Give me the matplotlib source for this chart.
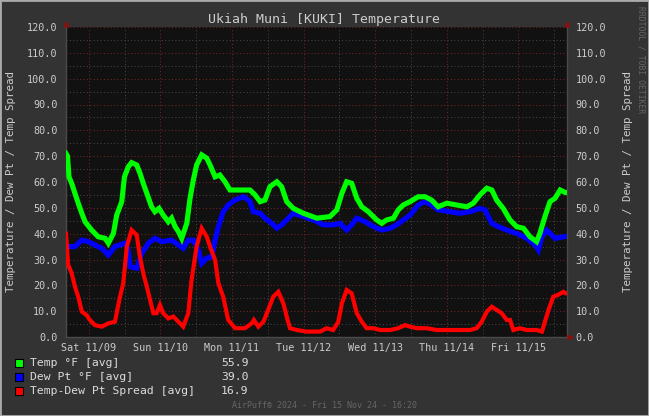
import matplotlib
matplotlib.use("Agg")
import matplotlib.pyplot as plt
import matplotlib.transforms as mtransforms
from matplotlib.patches import Rectangle

# hours since Fri 11/08 16:20, values in degF
temp_hours = [0.0, 0.5, 1.0, 1.9, 3.0, 4.1, 5.3, 6.4, 8.6, 10.8, 13.1, 14.2, 15.9, 17.0,
              18.7, 19.6, 20.9, 22.0, 23.7, 24.8, 25.9, 27.1, 28.7, 29.8, 31.2, 32.6,
              34.3, 35.4, 36.6, 37.7, 38.8, 40.5, 41.6, 42.7, 43.8, 45.5, 47.2, 48.3,
              50.0, 51.6, 53.3, 55.0, 58.9, 61.7, 63.4, 65.1, 66.7, 68.4, 70.7, 72.3,
              74.0, 76.2, 79.6, 84.1, 88.5, 90.8, 92.5, 94.1, 95.8, 97.5, 99.2, 101.4,
              104.2, 105.9, 107.5, 109.8, 111.4, 113.1, 115.4, 118.1, 120.4, 122.6,
              124.8, 127.7, 131.0, 134.4, 136.6, 138.8, 141.1, 142.8, 144.4, 146.6,
              148.9, 151.1, 153.4, 155.6, 157.8, 158.9, 160.6, 162.3, 164.0, 165.7,
              167.5, 168.0]
temp_vals = [71.0, 70.0, 62.0, 59.5, 55.6, 51.8, 47.9, 44.6, 41.4, 38.8, 38.2, 36.3, 40.1,
             47.2, 52.4, 62.0, 65.9, 67.5, 66.6, 63.4, 59.5, 55.6, 50.4, 48.5, 49.8, 47.2,
             44.6, 46.0, 42.7, 40.8, 38.2, 44.0, 53.7, 60.8, 66.6, 70.5, 69.2, 66.6, 62.0,
             62.7, 60.1, 56.9, 56.9, 56.9, 55.0, 52.4, 53.0, 58.2, 60.1, 58.2, 52.4, 49.8,
             47.9, 46.0, 46.6, 49.2, 55.6, 60.1, 59.5, 53.7, 50.4, 48.5, 45.3, 44.0, 45.3,
             46.0, 49.2, 51.1, 52.4, 54.3, 54.3, 53.0, 50.4, 51.8, 51.1, 50.4, 51.8, 55.0,
             57.6, 56.9, 53.0, 49.8, 45.3, 42.7, 42.1, 38.8, 36.9, 40.1, 46.6, 52.4, 53.7,
             56.9, 55.9, 55.9]

dew_hours = [0.0, 3.0, 5.3, 7.5, 9.7, 12.0, 14.2, 16.4, 19.8, 20.8, 21.5, 23.7, 25.4,
             27.6, 29.8, 32.1, 35.4, 37.7, 39.3, 41.0, 42.7, 44.4, 45.5, 47.2, 48.9,
             50.0, 51.1, 52.7, 54.4, 56.7, 59.5, 61.7, 62.8, 65.1, 66.7, 69.0, 70.7,
             72.3, 74.0, 76.2, 79.6, 82.9, 86.3, 89.6, 91.9, 94.1, 95.8, 97.5, 100.3,
             103.1, 105.9, 108.7, 110.9, 113.1, 115.4, 118.1, 120.4, 122.6, 124.8,
             128.8, 132.1, 135.5, 138.8, 140.5, 141.6, 142.8, 145.0, 147.8, 151.1,
             154.5, 157.3, 158.4, 159.6, 161.2, 164.0, 166.8, 168.0]
dew_vals = [35.0, 35.0, 37.5, 36.9, 35.6, 34.3, 31.7, 35.0, 36.3, 34.0, 27.2, 26.6, 32.4,
            36.3, 38.2, 36.9, 37.5, 35.6, 34.3, 37.5, 37.5, 33.7, 28.5, 30.5, 31.1, 37.5,
            42.7, 48.5, 51.1, 53.0, 54.3, 52.4, 48.5, 47.9, 46.0, 44.0, 42.1, 43.4, 45.3,
            47.9, 46.6, 45.3, 43.4, 43.4, 44.0, 41.4, 43.4, 46.0, 44.6, 42.7, 41.4, 42.1,
            43.4, 45.3, 47.2, 51.1, 52.4, 51.1, 49.2, 48.5, 47.9, 48.5, 49.8, 49.2, 46.6,
            44.0, 42.7, 41.4, 40.1, 38.2, 35.6, 33.7, 38.8, 41.4, 38.2, 38.8, 39.0]

spread_hours = [0.0, 0.7, 1.9, 3.0, 4.1, 5.3, 6.9, 8.0, 9.7, 12.0, 14.2, 16.4, 18.1, 19.2,
                20.4, 22.0, 23.7, 24.8, 25.9, 27.1, 28.2, 29.3, 30.4, 31.5, 32.6, 34.3,
                36.0, 37.7, 39.3, 41.0, 42.1, 43.8, 45.5, 47.2, 48.3, 50.0, 51.1, 52.7,
                54.4, 56.7, 60.0, 62.3, 63.0, 64.5, 66.2, 67.8, 69.5, 71.2, 72.9, 74.0,
                75.1, 77.4, 80.7, 85.2, 87.4, 89.6, 91.3, 92.5, 94.1, 95.8, 97.5, 99.2,
                100.8, 103.1, 105.3, 108.7, 111.4, 113.7, 115.4, 117.6, 121.0, 124.3,
                127.7, 132.1, 135.5, 137.7, 139.4, 141.1, 142.8, 144.4, 146.1, 147.8,
                148.9, 150.0, 152.2, 154.5, 157.8, 159.6, 160.6, 161.8, 163.4, 165.0,
                166.8, 167.5, 168.0]
spread_vals = [40.0, 28.0, 24.7, 19.5, 15.6, 9.8, 8.5, 6.6, 4.6, 4.0, 5.3, 5.9, 15.6, 20.8,
               35.0, 41.4, 39.5, 31.1, 24.7, 19.5, 14.3, 9.2, 9.2, 12.4, 9.2, 7.2, 7.9, 5.9,
               4.0, 9.2, 22.1, 35.0, 42.1, 38.8, 35.0, 29.8, 20.8, 15.6, 6.6, 3.4, 3.4, 5.3,
               6.6, 4.0, 5.9, 10.5, 15.6, 17.5, 13.0, 7.9, 3.4, 2.7, 2.1, 2.1, 3.4, 2.7, 5.9,
               13.0, 18.2, 16.9, 9.2, 5.9, 3.4, 3.4, 2.7, 2.7, 3.4, 4.6, 4.0, 3.4, 3.4, 2.7,
               2.7, 2.7, 2.7, 3.4, 5.9, 9.8, 11.7, 10.5, 9.2, 6.6, 6.6, 2.7, 3.4, 2.7, 2.7,
               2.1, 5.9, 10.5, 15.6, 16.3, 17.5, 16.9, 16.9]

day_labels = ["Sat 11/09", "Sun 11/10", "Mon 11/11", "Tue 11/12",
              "Wed 11/13", "Thu 11/14", "Fri 11/15"]
first_midnight = 7 + 40 / 60  # Sat 00:00 in hours since start
span_hours = 168

legend_names = ["Temp °F [avg]", "Dew Pt °F [avg]", "Temp-Dew Pt Spread [avg]"]
legend_last = [55.9, 39.0, 16.9]
series_colors = ["#00FF00", "#0000FF", "#FF0000"]

title = "Ukiah Muni [KUKI] Temperature"
ylabel = "Temperature / Dew Pt / Temp Spread"
footer = "AirPuff® 2024 - Fri 15 Nov 24 - 16:20"
watermark = "RRDTOOL / TOBI OETIKER"

BG = "#333333"
CANVAS = "#111111"
FONT = "#CCCCCC"
MONO = ["DejaVu Sans Mono"]

W, H = 649, 416
fig = plt.figure(figsize=(W / 100, H / 100), dpi=100, facecolor=BG)
ax = fig.add_axes([66 / W, (H - 337) / H, 501 / W, 310 / H], facecolor=CANVAS)

ax.set_xlim(0, span_hours)
ax.set_ylim(0, 120)

# grid: red major, gray minor, both dotted
dots = (0, (1, 2.5))
for y in range(5, 120, 10):
    ax.axhline(y, color="#4a4a4a", lw=0.7, ls=dots, zorder=1)
for y in range(10, 121, 10):
    ax.axhline(y, color="#802525", lw=0.7, ls=dots, zorder=1)
for i in range(len(day_labels)):
    ax.axvline(first_midnight + 24 * i, color="#802525", lw=0.7, ls=dots, zorder=1)
    noon = first_midnight + 24 * i + 12
    if noon < span_hours:
        ax.axvline(noon, color="#4a4a4a", lw=0.7, ls=dots, zorder=1)
ax.axvline(first_midnight - 12, color="#4a4a4a", lw=0.7, ls=dots, zorder=1)

ax.plot(temp_hours, temp_vals, color=series_colors[0], lw=3.7, zorder=3,
        solid_joinstyle="miter")
ax.plot(dew_hours, dew_vals, color=series_colors[1], lw=3.7, zorder=2,
        solid_joinstyle="miter")
ax.plot(spread_hours, spread_vals, color=series_colors[2], lw=3.0, zorder=4,
        solid_joinstyle="miter")

ax.set_xticks([first_midnight + 24 * i for i in range(len(day_labels))])
ax.set_xticklabels(day_labels)
ax.set_yticks(range(0, 121, 10))
ax.set_yticklabels([f"{v:.1f}" for v in range(0, 121, 10)])
ax.tick_params(axis="both", length=0, colors=FONT, labelsize=7.3,
               labelleft=True, labelright=True)
ax.tick_params(axis="x", pad=4)
ax.tick_params(axis="y", pad=6)
for lbl in ax.get_xticklabels() + ax.get_yticklabels():
    lbl.set_family(MONO)

ax.spines["top"].set_visible(False)
for s in ("left", "right", "bottom"):
    ax.spines[s].set_color("#4a4a4a")
    ax.spines[s].set_linewidth(1)

# axis arrows
up = mtransforms.offset_copy(ax.transData, fig=fig, y=3, units="dots")
rt = mtransforms.offset_copy(ax.transData, fig=fig, x=3, units="dots")
ax.plot([0, span_hours], [120, 120], ls="none", marker="^", ms=3.5, color="#8a1010",
        transform=up, clip_on=False, zorder=5)
ax.plot([span_hours], [0], ls="none", marker=">", ms=3.5, color="#8a1010",
        transform=rt, clip_on=False, zorder=5)

fig.text(324 / W, 1 - 19 / H, title, ha="center", va="center", color=FONT,
         fontsize=9.5, family=MONO)
fig.text(11 / W, 1 - 182 / H, ylabel, ha="center", va="center", rotation=90,
         color=FONT, fontsize=7.8, family=MONO)
fig.text(628 / W, 1 - 182 / H, ylabel, ha="center", va="center", rotation=90,
         color=FONT, fontsize=7.8, family=MONO)
fig.text(641 / W, 1 - 60 / H, watermark, ha="center", va="center", rotation=270,
         color="#666666", fontsize=5.8, family=MONO)
fig.text(324 / W, 1 - 405 / H, footer, ha="center", va="center", color="#666666",
         fontsize=6, family=MONO)

# legend rows
for i, (name, last, col) in enumerate(zip(legend_names, legend_last, series_colors)):
    yc = 363 + 14 * i
    fig.patches.append(Rectangle((15 / W, 1 - (yc + 4) / H), 8 / W, 8 / H,
                                 transform=fig.transFigure, facecolor=col,
                                 edgecolor="black", lw=0.8))
    fig.text(30 / W, 1 - yc / H, name, ha="left", va="center", color="#DDDDDD",
             fontsize=8.2, family=MONO)
    fig.text(221 / W, 1 - yc / H, f"{last:.1f}", ha="left", va="center",
             color="#DDDDDD", fontsize=8.2, family=MONO)

# outer 3d-ish border
fig.patches.append(Rectangle((0, 0), 1, 1, transform=fig.transFigure, fill=False,
                             edgecolor="#AAAAAA", lw=2))

fig.savefig("out.png", dpi=100, facecolor=BG)
